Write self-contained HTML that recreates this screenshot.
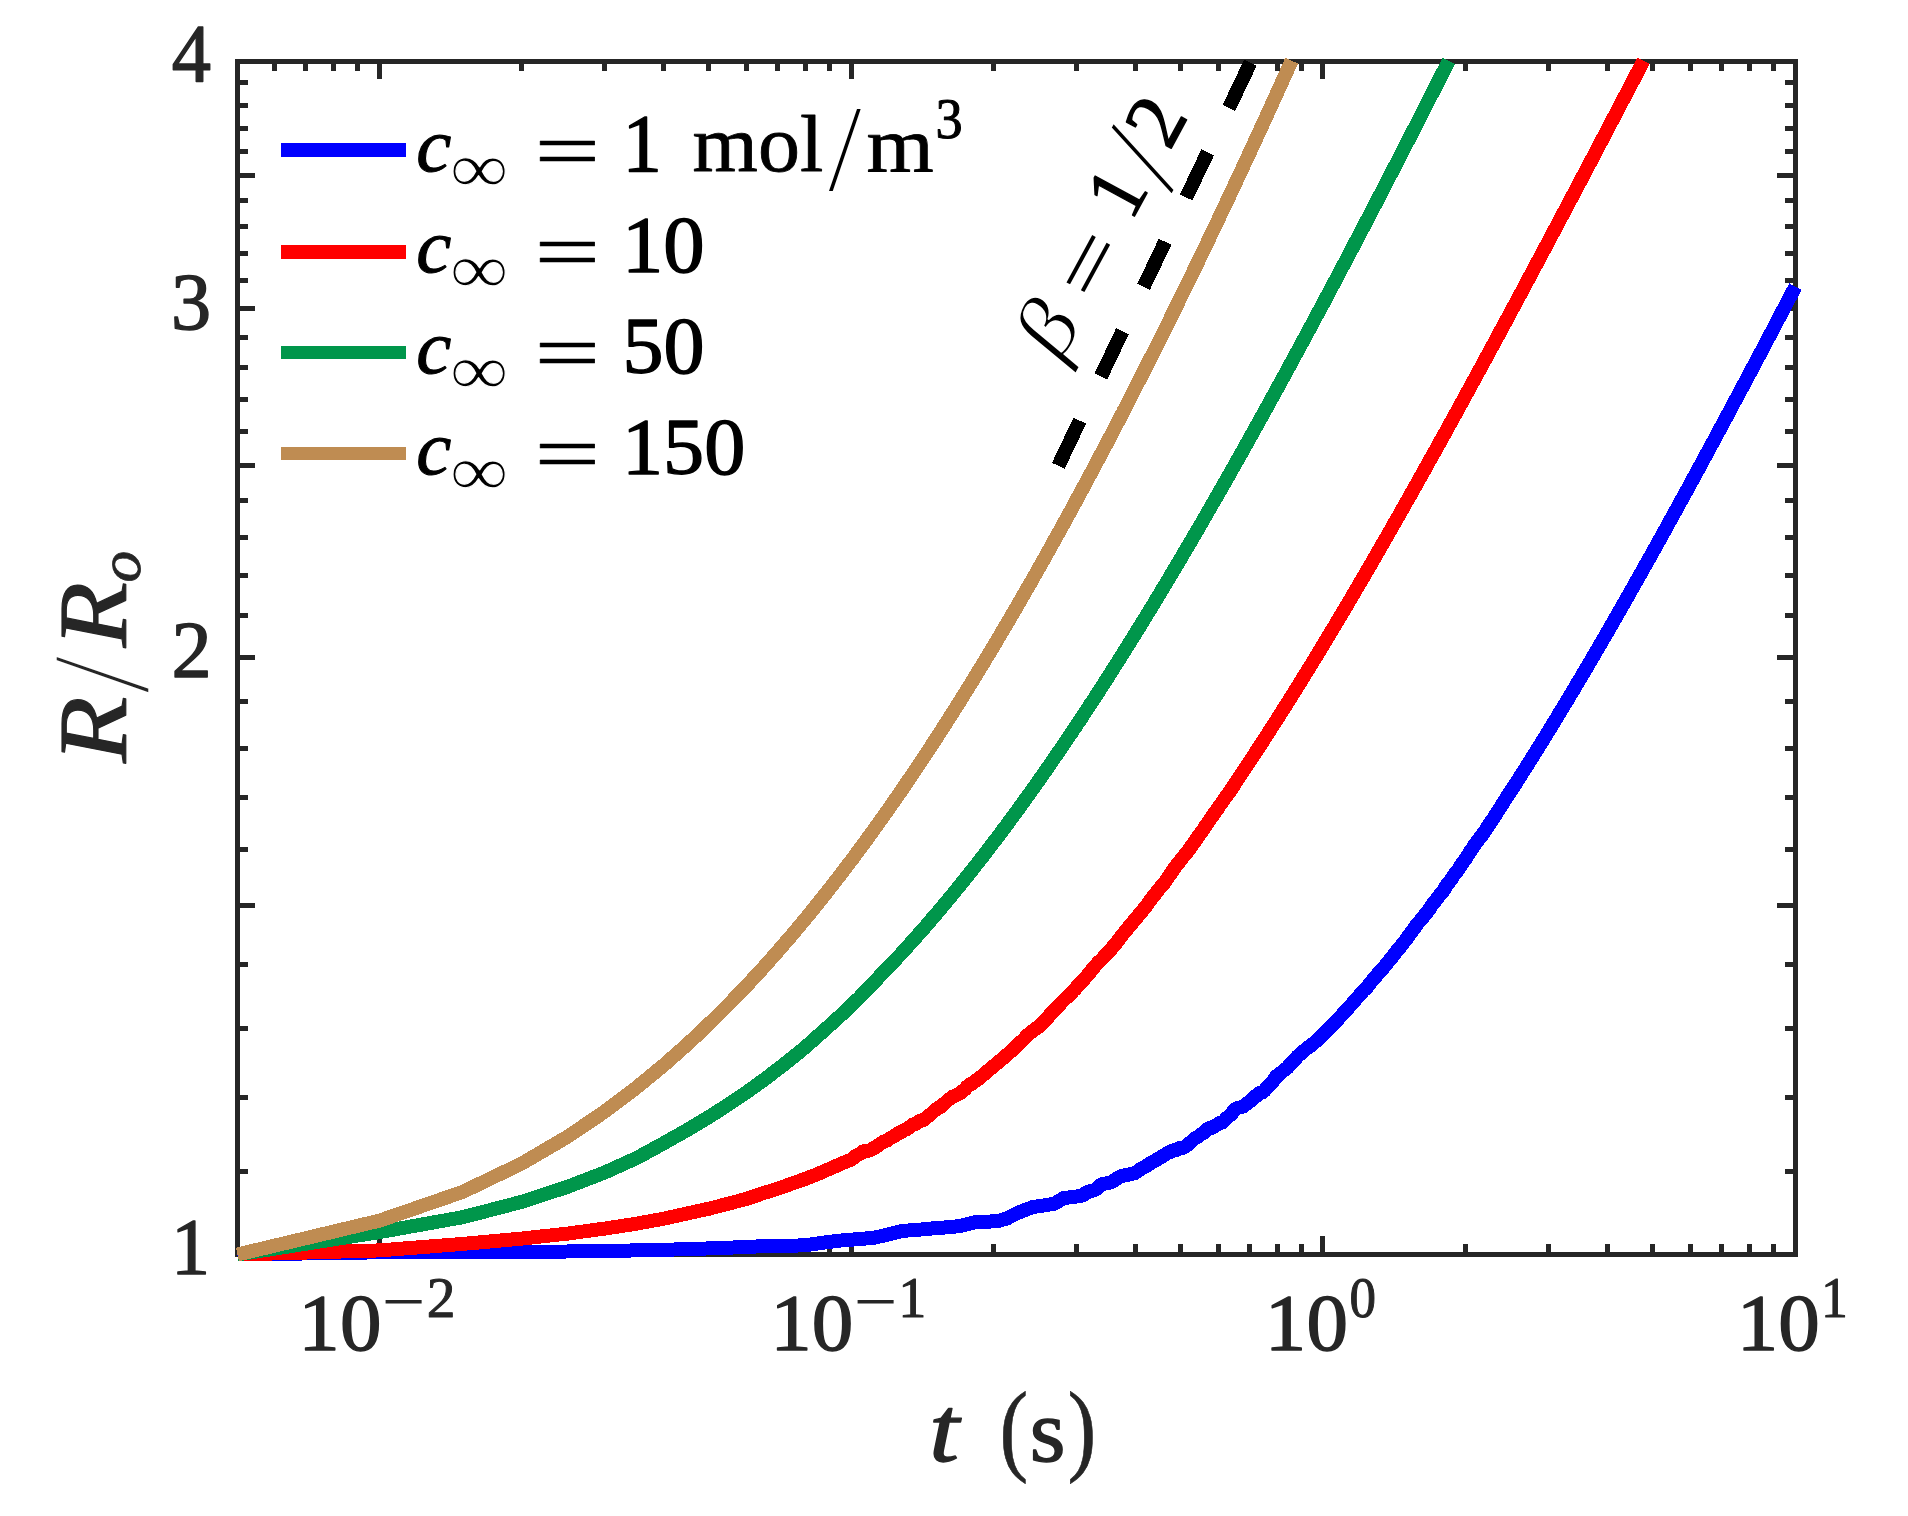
<!DOCTYPE html>
<html lang="en"><head><meta charset="utf-8"><title>R/Ro vs t</title>
<style>html,body{margin:0;padding:0;background:#fff}svg text{white-space:pre}</style></head>
<body>
<svg width="1908" height="1516" viewBox="0 0 1908 1516" style="display:block;font-family:'Liberation Serif','DejaVu Serif',serif">
<rect width="1908" height="1516" fill="#fff"/>
<g fill="#262626" shape-rendering="crispEdges">
<rect x="235.0" y="59.0" width="1563.0" height="5.0"/>
<rect x="235.0" y="1252.0" width="1563.0" height="5.0"/>
<rect x="235.0" y="59.0" width="5.0" height="1198.0"/>
<rect x="1793.0" y="59.0" width="5.0" height="1198.0"/>
<rect x="272.0" y="64.0" width="5.0" height="7.0"/>
<rect x="272.0" y="1244.0" width="5.0" height="8.0"/>
<rect x="303.0" y="64.0" width="5.0" height="7.0"/>
<rect x="303.0" y="1244.0" width="5.0" height="8.0"/>
<rect x="331.0" y="64.0" width="5.0" height="7.0"/>
<rect x="331.0" y="1244.0" width="5.0" height="8.0"/>
<rect x="355.0" y="64.0" width="5.0" height="7.0"/>
<rect x="355.0" y="1244.0" width="5.0" height="8.0"/>
<rect x="377.0" y="64.0" width="5.0" height="15.0"/>
<rect x="377.0" y="1236.0" width="5.0" height="16.0"/>
<rect x="519.0" y="64.0" width="5.0" height="7.0"/>
<rect x="519.0" y="1244.0" width="5.0" height="8.0"/>
<rect x="602.0" y="64.0" width="5.0" height="7.0"/>
<rect x="602.0" y="1244.0" width="5.0" height="8.0"/>
<rect x="661.0" y="64.0" width="5.0" height="7.0"/>
<rect x="661.0" y="1244.0" width="5.0" height="8.0"/>
<rect x="706.0" y="64.0" width="5.0" height="7.0"/>
<rect x="706.0" y="1244.0" width="5.0" height="8.0"/>
<rect x="744.0" y="64.0" width="5.0" height="7.0"/>
<rect x="744.0" y="1244.0" width="5.0" height="8.0"/>
<rect x="775.0" y="64.0" width="5.0" height="7.0"/>
<rect x="775.0" y="1244.0" width="5.0" height="8.0"/>
<rect x="803.0" y="64.0" width="5.0" height="7.0"/>
<rect x="803.0" y="1244.0" width="5.0" height="8.0"/>
<rect x="827.0" y="64.0" width="5.0" height="7.0"/>
<rect x="827.0" y="1244.0" width="5.0" height="8.0"/>
<rect x="849.0" y="64.0" width="5.0" height="15.0"/>
<rect x="849.0" y="1236.0" width="5.0" height="16.0"/>
<rect x="991.0" y="64.0" width="5.0" height="7.0"/>
<rect x="991.0" y="1244.0" width="5.0" height="8.0"/>
<rect x="1074.0" y="64.0" width="5.0" height="7.0"/>
<rect x="1074.0" y="1244.0" width="5.0" height="8.0"/>
<rect x="1133.0" y="64.0" width="5.0" height="7.0"/>
<rect x="1133.0" y="1244.0" width="5.0" height="8.0"/>
<rect x="1178.0" y="64.0" width="5.0" height="7.0"/>
<rect x="1178.0" y="1244.0" width="5.0" height="8.0"/>
<rect x="1216.0" y="64.0" width="5.0" height="7.0"/>
<rect x="1216.0" y="1244.0" width="5.0" height="8.0"/>
<rect x="1247.0" y="64.0" width="5.0" height="7.0"/>
<rect x="1247.0" y="1244.0" width="5.0" height="8.0"/>
<rect x="1275.0" y="64.0" width="5.0" height="7.0"/>
<rect x="1275.0" y="1244.0" width="5.0" height="8.0"/>
<rect x="1299.0" y="64.0" width="5.0" height="7.0"/>
<rect x="1299.0" y="1244.0" width="5.0" height="8.0"/>
<rect x="1320.0" y="64.0" width="5.0" height="15.0"/>
<rect x="1320.0" y="1236.0" width="5.0" height="16.0"/>
<rect x="1463.0" y="64.0" width="5.0" height="7.0"/>
<rect x="1463.0" y="1244.0" width="5.0" height="8.0"/>
<rect x="1546.0" y="64.0" width="5.0" height="7.0"/>
<rect x="1546.0" y="1244.0" width="5.0" height="8.0"/>
<rect x="1605.0" y="64.0" width="5.0" height="7.0"/>
<rect x="1605.0" y="1244.0" width="5.0" height="8.0"/>
<rect x="1650.0" y="64.0" width="5.0" height="7.0"/>
<rect x="1650.0" y="1244.0" width="5.0" height="8.0"/>
<rect x="1688.0" y="64.0" width="5.0" height="7.0"/>
<rect x="1688.0" y="1244.0" width="5.0" height="8.0"/>
<rect x="1719.0" y="64.0" width="5.0" height="7.0"/>
<rect x="1719.0" y="1244.0" width="5.0" height="8.0"/>
<rect x="1747.0" y="64.0" width="5.0" height="7.0"/>
<rect x="1747.0" y="1244.0" width="5.0" height="8.0"/>
<rect x="1771.0" y="64.0" width="5.0" height="7.0"/>
<rect x="1771.0" y="1244.0" width="5.0" height="8.0"/>
<rect x="240.0" y="1169.0" width="8.0" height="5.0"/>
<rect x="1785.0" y="1169.0" width="8.0" height="5.0"/>
<rect x="240.0" y="1095.0" width="8.0" height="5.0"/>
<rect x="1785.0" y="1095.0" width="8.0" height="5.0"/>
<rect x="240.0" y="1026.0" width="8.0" height="5.0"/>
<rect x="1785.0" y="1026.0" width="8.0" height="5.0"/>
<rect x="240.0" y="962.0" width="8.0" height="5.0"/>
<rect x="1785.0" y="962.0" width="8.0" height="5.0"/>
<rect x="240.0" y="903.0" width="15.0" height="5.0"/>
<rect x="1777.0" y="903.0" width="16.0" height="5.0"/>
<rect x="240.0" y="847.0" width="8.0" height="5.0"/>
<rect x="1785.0" y="847.0" width="8.0" height="5.0"/>
<rect x="240.0" y="795.0" width="8.0" height="5.0"/>
<rect x="1785.0" y="795.0" width="8.0" height="5.0"/>
<rect x="240.0" y="746.0" width="8.0" height="5.0"/>
<rect x="1785.0" y="746.0" width="8.0" height="5.0"/>
<rect x="240.0" y="699.0" width="8.0" height="5.0"/>
<rect x="1785.0" y="699.0" width="8.0" height="5.0"/>
<rect x="240.0" y="655.0" width="15.0" height="5.0"/>
<rect x="1777.0" y="655.0" width="16.0" height="5.0"/>
<rect x="240.0" y="613.0" width="8.0" height="5.0"/>
<rect x="1785.0" y="613.0" width="8.0" height="5.0"/>
<rect x="240.0" y="573.0" width="8.0" height="5.0"/>
<rect x="1785.0" y="573.0" width="8.0" height="5.0"/>
<rect x="240.0" y="535.0" width="8.0" height="5.0"/>
<rect x="1785.0" y="535.0" width="8.0" height="5.0"/>
<rect x="240.0" y="498.0" width="8.0" height="5.0"/>
<rect x="1785.0" y="498.0" width="8.0" height="5.0"/>
<rect x="240.0" y="463.0" width="15.0" height="5.0"/>
<rect x="1777.0" y="463.0" width="16.0" height="5.0"/>
<rect x="240.0" y="429.0" width="8.0" height="5.0"/>
<rect x="1785.0" y="429.0" width="8.0" height="5.0"/>
<rect x="240.0" y="397.0" width="8.0" height="5.0"/>
<rect x="1785.0" y="397.0" width="8.0" height="5.0"/>
<rect x="240.0" y="365.0" width="8.0" height="5.0"/>
<rect x="1785.0" y="365.0" width="8.0" height="5.0"/>
<rect x="240.0" y="335.0" width="8.0" height="5.0"/>
<rect x="1785.0" y="335.0" width="8.0" height="5.0"/>
<rect x="240.0" y="306.0" width="15.0" height="5.0"/>
<rect x="1777.0" y="306.0" width="16.0" height="5.0"/>
<rect x="240.0" y="278.0" width="8.0" height="5.0"/>
<rect x="1785.0" y="278.0" width="8.0" height="5.0"/>
<rect x="240.0" y="251.0" width="8.0" height="5.0"/>
<rect x="1785.0" y="251.0" width="8.0" height="5.0"/>
<rect x="240.0" y="224.0" width="8.0" height="5.0"/>
<rect x="1785.0" y="224.0" width="8.0" height="5.0"/>
<rect x="240.0" y="198.0" width="8.0" height="5.0"/>
<rect x="1785.0" y="198.0" width="8.0" height="5.0"/>
<rect x="240.0" y="173.0" width="15.0" height="5.0"/>
<rect x="1777.0" y="173.0" width="16.0" height="5.0"/>
<rect x="240.0" y="149.0" width="8.0" height="5.0"/>
<rect x="1785.0" y="149.0" width="8.0" height="5.0"/>
<rect x="240.0" y="126.0" width="8.0" height="5.0"/>
<rect x="1785.0" y="126.0" width="8.0" height="5.0"/>
<rect x="240.0" y="103.0" width="8.0" height="5.0"/>
<rect x="1785.0" y="103.0" width="8.0" height="5.0"/>
<rect x="240.0" y="80.0" width="8.0" height="5.0"/>
<rect x="1785.0" y="80.0" width="8.0" height="5.0"/>
</g>
<g fill="none" stroke-width="14" stroke-linejoin="round" shape-rendering="crispEdges">
<path stroke="#0000ff" d="M237.5 1254.5L379.6 1252.3L462.7 1252.2L521.6 1251.9L567.4 1251.5L604.7 1251.0L636.3 1250.4L663.7 1249.8L687.8 1249.1L709.4 1248.4L729.0 1247.7L746.8 1246.9L763.2 1246.2L778.4 1246.0L792.5 1245.8L805.8 1245.1L818.2 1243.4L829.9 1241.8L841.0 1240.5L851.5 1239.7L853.9 1239.5L856.2 1239.3L858.6 1239.1L861.0 1238.9L863.3 1238.7L865.7 1238.5L868.0 1238.3L870.4 1238.1L872.8 1237.8L875.1 1237.5L877.5 1237.0L879.8 1236.4L882.2 1235.9L884.5 1235.3L886.9 1234.7L889.3 1234.2L891.6 1233.6L894.0 1233.0L896.3 1232.5L898.7 1231.9L901.1 1231.3L903.4 1230.8L905.8 1230.7L908.1 1230.5L910.5 1230.3L912.9 1230.1L915.2 1230.0L917.6 1229.8L919.9 1229.6L922.3 1229.4L924.7 1229.2L927.0 1229.0L929.4 1228.7L931.7 1228.5L934.1 1228.4L936.5 1228.2L938.8 1228.0L941.2 1227.8L943.5 1227.6L945.9 1227.4L948.3 1227.2L950.6 1226.9L953.0 1226.7L955.3 1226.5L957.7 1226.2L960.1 1226.0L962.4 1225.4L964.8 1224.8L967.1 1224.2L969.5 1223.6L971.9 1223.0L974.2 1222.3L976.6 1222.1L978.9 1222.0L981.3 1221.9L983.7 1221.8L986.0 1221.7L988.4 1221.6L990.7 1221.5L993.1 1221.4L995.5 1221.2L997.8 1221.1L1000.2 1220.4L1002.5 1219.7L1004.9 1219.0L1007.3 1218.3L1009.6 1217.1L1012.0 1215.9L1014.3 1214.7L1016.7 1213.5L1019.1 1212.4L1021.4 1211.5L1023.8 1210.5L1026.1 1209.6L1028.5 1208.7L1030.9 1207.7L1033.2 1206.9L1035.6 1206.6L1037.9 1206.3L1040.3 1205.9L1042.6 1205.6L1045.0 1205.2L1047.4 1204.8L1049.7 1204.5L1052.1 1204.1L1054.4 1203.6L1056.8 1202.2L1059.2 1200.8L1061.5 1199.4L1063.9 1198.0L1066.2 1197.7L1068.6 1197.5L1071.0 1197.2L1073.3 1196.9L1075.7 1196.6L1078.0 1196.3L1080.4 1196.0L1082.8 1195.5L1085.1 1193.2L1087.5 1192.2L1089.8 1191.4L1092.2 1190.6L1094.6 1189.9L1096.9 1189.0L1099.3 1186.6L1101.6 1184.3L1104.0 1183.8L1106.4 1183.4L1108.7 1182.9L1111.1 1182.4L1113.4 1180.9L1115.8 1179.3L1118.2 1177.8L1120.5 1176.3L1122.9 1175.8L1125.2 1175.3L1127.6 1174.8L1130.0 1174.3L1132.3 1173.7L1134.7 1173.2L1137.0 1171.8L1139.4 1169.9L1141.8 1168.4L1144.1 1167.2L1146.5 1165.9L1148.8 1164.3L1151.2 1162.7L1153.6 1161.4L1155.9 1160.2L1158.3 1158.6L1160.6 1157.6L1163.0 1155.7L1165.4 1154.5L1167.7 1152.9L1170.1 1152.1L1172.4 1150.4L1174.8 1150.5L1177.2 1149.6L1179.5 1148.2L1181.9 1148.2L1184.2 1147.3L1186.6 1145.6L1189.0 1143.7L1191.3 1141.8L1193.7 1139.3L1196.0 1137.7L1198.4 1136.6L1200.8 1134.2L1203.1 1133.1L1205.5 1131.2L1207.8 1129.0L1210.2 1127.7L1212.5 1127.7L1214.9 1125.9L1217.3 1124.6L1219.6 1123.1L1222.0 1122.6L1224.3 1120.7L1226.7 1118.1L1229.1 1115.9L1231.4 1114.7L1233.8 1110.5L1236.1 1108.7L1238.5 1107.7L1240.9 1107.4L1243.2 1106.5L1245.6 1104.5L1247.9 1103.0L1250.3 1100.9L1252.7 1098.9L1255.0 1096.3L1257.4 1095.8L1259.7 1092.9L1262.1 1092.5L1264.5 1090.7L1266.8 1087.8L1269.2 1085.3L1271.5 1083.2L1273.9 1080.1L1276.3 1076.2L1278.6 1075.6L1281.0 1072.8L1283.3 1070.8L1285.7 1068.9L1288.1 1067.1L1290.4 1063.7L1292.8 1061.7L1295.1 1059.5L1297.5 1056.4L1299.9 1054.4L1302.2 1052.3L1304.6 1050.3L1306.9 1048.3L1309.3 1046.7L1311.7 1045.0L1314.0 1042.9L1316.4 1040.8L1318.7 1038.5L1321.1 1036.4L1323.5 1034.0L1325.8 1031.9L1328.2 1029.6L1330.5 1027.2L1332.9 1024.7L1335.3 1022.2L1337.6 1019.7L1340.0 1017.0L1342.3 1014.6L1344.7 1012.0L1347.1 1009.1L1349.4 1006.7L1351.8 1004.3L1354.1 1001.3L1356.5 998.5L1358.9 996.2L1361.2 993.3L1363.6 990.4L1365.9 988.6L1368.3 985.6L1370.7 982.5L1373.0 979.8L1375.4 977.4L1377.7 974.2L1380.1 971.5L1382.4 969.1L1384.8 966.1L1387.2 963.1L1389.5 960.4L1391.9 957.4L1394.2 954.3L1396.6 951.3L1399.0 948.7L1401.3 945.5L1403.7 942.4L1406.0 939.8L1408.4 936.2L1410.8 932.8L1413.1 929.8L1415.5 926.6L1417.8 923.3L1420.2 920.7L1422.6 918.2L1424.9 914.8L1427.3 911.9L1429.6 908.8L1432.0 904.9L1434.4 902.4L1436.7 899.2L1439.1 896.0L1441.4 892.9L1443.8 890.4L1446.2 885.6L1448.5 882.8L1450.9 879.9L1453.2 876.2L1455.6 872.8L1458.0 870.2L1460.3 866.3L1462.7 862.8L1465.0 859.7L1467.4 856.1L1469.8 852.1L1472.1 848.9L1474.5 845.1L1476.8 841.9L1479.2 838.6L1481.6 835.8L1483.9 832.4L1486.3 829.2L1488.6 825.2L1491.0 821.8L1493.4 818.5L1495.7 814.7L1498.1 810.9L1500.4 807.4L1502.8 803.6L1505.2 799.6L1507.5 796.1L1509.9 792.5L1512.2 789.0L1514.6 785.3L1517.0 781.7L1519.3 778.0L1521.7 774.2L1524.0 770.5L1526.4 766.8L1528.8 763.0L1531.1 759.3L1533.5 755.5L1535.8 751.7L1538.2 747.9L1540.6 744.1L1542.9 740.3L1545.3 736.5L1547.6 732.7L1550.0 728.8L1552.3 724.9L1554.7 721.1L1557.1 717.2L1559.4 713.3L1561.8 709.4L1564.1 705.5L1566.5 701.6L1568.9 697.6L1571.2 693.7L1573.6 689.8L1575.9 685.8L1578.3 681.8L1580.7 677.8L1583.0 673.9L1585.4 669.9L1587.7 665.8L1590.1 661.8L1592.5 657.8L1594.8 653.8L1597.2 649.7L1599.5 645.7L1601.9 641.6L1604.3 637.5L1606.6 633.5L1609.0 629.4L1611.3 625.3L1613.7 621.2L1616.1 617.1L1618.4 612.9L1620.8 608.8L1623.1 604.7L1625.5 600.5L1627.9 596.4L1630.2 592.2L1632.6 588.0L1634.9 583.9L1637.3 579.7L1639.7 575.5L1642.0 571.3L1644.4 567.1L1646.7 562.9L1649.1 558.7L1651.5 554.4L1653.8 550.2L1656.2 546.0L1658.5 541.7L1660.9 537.5L1663.3 533.2L1665.6 529.0L1668.0 524.7L1670.3 520.4L1672.7 516.1L1675.1 511.8L1677.4 507.5L1679.8 503.2L1682.1 498.9L1684.5 494.6L1686.9 490.3L1689.2 486.0L1691.6 481.7L1693.9 477.3L1696.3 473.0L1698.7 468.6L1701.0 464.3L1703.4 459.9L1705.7 455.6L1708.1 451.2L1710.5 446.8L1712.8 442.4L1715.2 438.1L1717.5 433.7L1719.9 429.3L1722.2 424.9L1724.6 420.5L1727.0 416.1L1729.3 411.7L1731.7 407.3L1734.0 402.8L1736.4 398.4L1738.8 394.0L1741.1 389.6L1743.5 385.1L1745.8 380.7L1748.2 376.2L1750.6 371.8L1752.9 367.3L1755.3 362.9L1757.6 358.4L1760.0 354.0L1762.4 349.5L1764.7 345.0L1767.1 340.6L1769.4 336.1L1771.8 331.6L1774.2 327.1L1776.5 322.6L1778.9 318.1L1781.2 313.6L1783.6 309.1L1786.0 304.6L1788.3 300.1L1790.7 295.6L1793.0 291.1L1795.4 286.6"/>
<path stroke="#ff0000" d="M237.5 1254.5L379.6 1250.4L462.7 1243.9L521.6 1238.6L567.4 1233.6L604.7 1228.6L636.3 1223.7L663.7 1218.7L687.8 1213.3L709.4 1208.6L729.0 1203.5L746.8 1198.8L763.2 1193.2L778.4 1188.5L792.5 1183.4L805.8 1178.7L818.2 1173.8L829.9 1168.7L841.0 1163.8L851.5 1159.5L853.9 1157.6L856.2 1155.7L858.6 1154.3L861.0 1153.2L863.3 1151.3L865.7 1151.1L868.0 1150.8L870.4 1150.2L872.8 1148.7L875.1 1147.4L877.5 1146.0L879.8 1144.1L882.2 1142.6L884.5 1141.2L886.9 1140.6L889.3 1138.7L891.6 1137.4L894.0 1136.0L896.3 1134.9L898.7 1132.8L901.1 1132.1L903.4 1130.4L905.8 1129.6L908.1 1128.2L910.5 1126.3L912.9 1124.5L915.2 1124.1L917.6 1122.2L919.9 1120.7L922.3 1120.6L924.7 1119.1L927.0 1117.0L929.4 1115.1L931.7 1113.4L934.1 1110.9L936.5 1109.2L938.8 1107.6L941.2 1106.5L943.5 1104.2L945.9 1102.1L948.3 1099.6L950.6 1098.4L953.0 1096.4L955.3 1095.7L957.7 1094.5L960.1 1093.4L962.4 1091.3L964.8 1089.5L967.1 1086.7L969.5 1084.6L971.9 1083.7L974.2 1081.8L976.6 1080.1L978.9 1078.5L981.3 1076.6L983.7 1074.5L986.0 1072.5L988.4 1070.4L990.7 1068.5L993.1 1066.5L995.5 1064.5L997.8 1062.6L1000.2 1060.6L1002.5 1058.6L1004.9 1056.6L1007.3 1054.6L1009.6 1052.4L1012.0 1050.3L1014.3 1048.1L1016.7 1046.0L1019.1 1043.7L1021.4 1041.5L1023.8 1039.2L1026.1 1036.7L1028.5 1034.4L1030.9 1032.4L1033.2 1030.6L1035.6 1028.7L1037.9 1027.3L1040.3 1025.2L1042.6 1022.7L1045.0 1020.6L1047.4 1017.9L1049.7 1015.2L1052.1 1012.6L1054.4 1010.4L1056.8 1007.1L1059.2 1005.2L1061.5 1002.5L1063.9 1000.1L1066.2 997.9L1068.6 996.1L1071.0 993.4L1073.3 990.8L1075.7 988.5L1078.0 985.5L1080.4 983.0L1082.8 980.6L1085.1 978.0L1087.5 975.3L1089.8 972.6L1092.2 969.5L1094.6 966.6L1096.9 964.0L1099.3 961.6L1101.6 959.4L1104.0 956.8L1106.4 954.4L1108.7 951.5L1111.1 949.1L1113.4 946.0L1115.8 943.5L1118.2 940.4L1120.5 937.5L1122.9 934.3L1125.2 931.3L1127.6 928.5L1130.0 925.4L1132.3 922.9L1134.7 919.7L1137.0 917.3L1139.4 914.2L1141.8 911.9L1144.1 908.5L1146.5 905.8L1148.8 902.2L1151.2 899.1L1153.6 895.9L1155.9 893.1L1158.3 890.0L1160.6 887.3L1163.0 884.5L1165.4 881.4L1167.7 878.0L1170.1 874.6L1172.4 871.3L1174.8 867.5L1177.2 864.5L1179.5 861.6L1181.9 858.5L1184.2 855.6L1186.6 853.0L1189.0 849.7L1191.3 846.2L1193.7 843.1L1196.0 839.7L1198.4 836.0L1200.8 832.9L1203.1 829.9L1205.5 826.1L1207.8 822.7L1210.2 819.3L1212.5 815.9L1214.9 812.6L1217.3 809.4L1219.6 805.7L1222.0 802.6L1224.3 798.9L1226.7 795.6L1229.1 792.5L1231.4 789.1L1233.8 785.6L1236.1 781.9L1238.5 778.3L1240.9 774.8L1243.2 771.2L1245.6 767.7L1247.9 764.2L1250.3 760.6L1252.7 757.0L1255.0 753.4L1257.4 749.8L1259.7 746.2L1262.1 742.6L1264.5 738.9L1266.8 735.3L1269.2 731.6L1271.5 727.9L1273.9 724.2L1276.3 720.5L1278.6 716.8L1281.0 713.1L1283.3 709.4L1285.7 705.7L1288.1 701.9L1290.4 698.1L1292.8 694.4L1295.1 690.6L1297.5 686.8L1299.9 683.0L1302.2 679.2L1304.6 675.4L1306.9 671.5L1309.3 667.7L1311.7 663.8L1314.0 660.0L1316.4 656.1L1318.7 652.2L1321.1 648.4L1323.5 644.5L1325.8 640.5L1328.2 636.6L1330.5 632.7L1332.9 628.8L1335.3 624.8L1337.6 620.9L1340.0 616.9L1342.3 612.9L1344.7 609.0L1347.1 605.0L1349.4 601.0L1351.8 597.0L1354.1 593.0L1356.5 588.9L1358.9 584.9L1361.2 580.9L1363.6 576.8L1365.9 572.8L1368.3 568.7L1370.7 564.7L1373.0 560.6L1375.4 556.5L1377.7 552.4L1380.1 548.3L1382.4 544.2L1384.8 540.1L1387.2 536.0L1389.5 531.9L1391.9 527.7L1394.2 523.6L1396.6 519.4L1399.0 515.3L1401.3 511.1L1403.7 507.0L1406.0 502.8L1408.4 498.6L1410.8 494.4L1413.1 490.2L1415.5 486.0L1417.8 481.8L1420.2 477.6L1422.6 473.4L1424.9 469.2L1427.3 464.9L1429.6 460.7L1432.0 456.5L1434.4 452.2L1436.7 448.0L1439.1 443.7L1441.4 439.5L1443.8 435.2L1446.2 430.9L1448.5 426.6L1450.9 422.4L1453.2 418.1L1455.6 413.8L1458.0 409.5L1460.3 405.2L1462.7 400.9L1465.0 396.6L1467.4 392.2L1469.8 387.9L1472.1 383.6L1474.5 379.3L1476.8 374.9L1479.2 370.6L1481.6 366.2L1483.9 361.9L1486.3 357.5L1488.6 353.2L1491.0 348.8L1493.4 344.4L1495.7 340.1L1498.1 335.7L1500.4 331.3L1502.8 326.9L1505.2 322.6L1507.5 318.2L1509.9 313.8L1512.2 309.4L1514.6 305.0L1517.0 300.6L1519.3 296.2L1521.7 291.8L1524.0 287.4L1526.4 282.9L1528.8 278.5L1531.1 274.1L1533.5 269.7L1535.8 265.2L1538.2 260.8L1540.6 256.4L1542.9 251.9L1545.3 247.5L1547.6 243.1L1550.0 238.6L1552.3 234.2L1554.7 229.7L1557.1 225.3L1559.4 220.8L1561.8 216.3L1564.1 211.9L1566.5 207.4L1568.9 203.0L1571.2 198.5L1573.6 194.0L1575.9 189.5L1578.3 185.1L1580.7 180.6L1583.0 176.1L1585.4 171.6L1587.7 167.1L1590.1 162.7L1592.5 158.2L1594.8 153.7L1597.2 149.2L1599.5 144.7L1601.9 140.2L1604.3 135.7L1606.6 131.2L1609.0 126.7L1611.3 122.2L1613.7 117.7L1616.1 113.2L1618.4 108.7L1620.8 104.2L1623.1 99.7L1625.5 95.2L1627.9 90.7L1630.2 86.2L1632.6 81.7L1634.9 77.2L1637.3 72.6L1639.7 68.1L1642.0 63.6L1643.5 60.7"/>
<path stroke="#00964b" d="M237.5 1254.5L379.6 1232.1L462.7 1217.2L521.6 1201.9L567.4 1186.9L604.7 1172.5L636.3 1158.2L663.7 1143.3L687.8 1129.6L709.4 1116.7L729.0 1104.1L746.8 1092.1L763.2 1080.3L778.4 1068.8L792.5 1057.7L805.8 1046.8L818.2 1035.7L829.9 1025.2L841.0 1015.1L851.5 1005.2L853.9 1002.7L856.2 1000.5L858.6 998.5L861.0 995.8L863.3 992.9L865.7 990.9L868.0 988.7L870.4 986.1L872.8 984.0L875.1 981.1L877.5 978.7L879.8 976.0L882.2 973.4L884.5 970.9L886.9 968.9L889.3 966.3L891.6 963.8L894.0 961.4L896.3 958.9L898.7 956.3L901.1 953.8L903.4 951.2L905.8 948.6L908.1 946.0L910.5 943.4L912.9 940.8L915.2 938.1L917.6 935.5L919.9 932.8L922.3 930.1L924.7 927.4L927.0 924.7L929.4 921.9L931.7 919.2L934.1 916.4L936.5 913.7L938.8 910.9L941.2 908.1L943.5 905.3L945.9 902.4L948.3 899.6L950.6 896.7L953.0 893.9L955.3 891.0L957.7 888.1L960.1 885.2L962.4 882.3L964.8 879.3L967.1 876.4L969.5 873.4L971.9 870.4L974.2 867.5L976.6 864.4L978.9 861.4L981.3 858.4L983.7 855.4L986.0 852.3L988.4 849.2L990.7 846.1L993.1 843.0L995.5 839.9L997.8 836.8L1000.2 833.7L1002.5 830.5L1004.9 827.4L1007.3 824.2L1009.6 821.0L1012.0 817.8L1014.3 814.6L1016.7 811.4L1019.1 808.1L1021.4 804.9L1023.8 801.6L1026.1 798.3L1028.5 795.0L1030.9 791.7L1033.2 788.4L1035.6 785.1L1037.9 781.7L1040.3 778.4L1042.6 775.0L1045.0 771.6L1047.4 768.3L1049.7 764.9L1052.1 761.4L1054.4 758.0L1056.8 754.6L1059.2 751.1L1061.5 747.7L1063.9 744.2L1066.2 740.7L1068.6 737.2L1071.0 733.7L1073.3 730.2L1075.7 726.7L1078.0 723.1L1080.4 719.6L1082.8 716.0L1085.1 712.4L1087.5 708.8L1089.8 705.2L1092.2 701.6L1094.6 698.0L1096.9 694.4L1099.3 690.7L1101.6 687.1L1104.0 683.4L1106.4 679.7L1108.7 676.0L1111.1 672.3L1113.4 668.6L1115.8 664.9L1118.2 661.2L1120.5 657.4L1122.9 653.7L1125.2 649.9L1127.6 646.1L1130.0 642.3L1132.3 638.6L1134.7 634.8L1137.0 630.9L1139.4 627.1L1141.8 623.3L1144.1 619.4L1146.5 615.6L1148.8 611.7L1151.2 607.8L1153.6 604.0L1155.9 600.1L1158.3 596.2L1160.6 592.3L1163.0 588.3L1165.4 584.4L1167.7 580.5L1170.1 576.5L1172.4 572.6L1174.8 568.6L1177.2 564.6L1179.5 560.6L1181.9 556.6L1184.2 552.6L1186.6 548.6L1189.0 544.6L1191.3 540.6L1193.7 536.5L1196.0 532.5L1198.4 528.4L1200.8 524.4L1203.1 520.3L1205.5 516.2L1207.8 512.1L1210.2 508.0L1212.5 503.9L1214.9 499.8L1217.3 495.7L1219.6 491.6L1222.0 487.4L1224.3 483.3L1226.7 479.1L1229.1 475.0L1231.4 470.8L1233.8 466.6L1236.1 462.5L1238.5 458.3L1240.9 454.1L1243.2 449.9L1245.6 445.7L1247.9 441.4L1250.3 437.2L1252.7 433.0L1255.0 428.7L1257.4 424.5L1259.7 420.2L1262.1 416.0L1264.5 411.7L1266.8 407.4L1269.2 403.1L1271.5 398.8L1273.9 394.5L1276.3 390.2L1278.6 385.9L1281.0 381.6L1283.3 377.3L1285.7 373.0L1288.1 368.6L1290.4 364.3L1292.8 359.9L1295.1 355.6L1297.5 351.2L1299.9 346.9L1302.2 342.5L1304.6 338.1L1306.9 333.7L1309.3 329.3L1311.7 324.9L1314.0 320.5L1316.4 316.1L1318.7 311.7L1321.1 307.3L1323.5 302.9L1325.8 298.4L1328.2 294.0L1330.5 289.5L1332.9 285.1L1335.3 280.6L1337.6 276.2L1340.0 271.7L1342.3 267.2L1344.7 262.8L1347.1 258.3L1349.4 253.8L1351.8 249.3L1354.1 244.8L1356.5 240.3L1358.9 235.8L1361.2 231.3L1363.6 226.8L1365.9 222.3L1368.3 217.7L1370.7 213.2L1373.0 208.7L1375.4 204.1L1377.7 199.6L1380.1 195.0L1382.4 190.5L1384.8 185.9L1387.2 181.4L1389.5 176.8L1391.9 172.2L1394.2 167.7L1396.6 163.1L1399.0 158.5L1401.3 153.9L1403.7 149.3L1406.0 144.7L1408.4 140.1L1410.8 135.5L1413.1 130.9L1415.5 126.3L1417.8 121.7L1420.2 117.0L1422.6 112.4L1424.9 107.8L1427.3 103.2L1429.6 98.5L1432.0 93.9L1434.4 89.2L1436.7 84.6L1439.1 79.9L1441.4 75.3L1443.8 70.6L1446.2 66.0L1448.5 61.3L1448.8 60.7"/>
<path stroke="#bf8c52" d="M237.5 1254.5L379.6 1220.6L462.7 1191.9L521.6 1163.6L567.4 1136.8L604.7 1111.6L636.3 1087.7L663.7 1065.2L687.8 1043.9L709.4 1023.5L729.0 1004.1L746.8 985.6L763.2 967.8L778.4 950.7L792.5 934.3L805.8 918.4L818.2 903.1L829.9 888.3L841.0 874.0L851.5 860.2L853.9 857.0L856.2 853.8L858.6 850.7L861.0 847.5L863.3 844.3L865.7 841.0L868.0 837.8L870.4 834.6L872.8 831.3L875.1 828.0L877.5 824.7L879.8 821.4L882.2 818.1L884.5 814.8L886.9 811.4L889.3 808.1L891.6 804.7L894.0 801.3L896.3 797.9L898.7 794.5L901.1 791.1L903.4 787.6L905.8 784.2L908.1 780.7L910.5 777.2L912.9 773.7L915.2 770.2L917.6 766.7L919.9 763.1L922.3 759.6L924.7 756.0L927.0 752.4L929.4 748.9L931.7 745.3L934.1 741.6L936.5 738.0L938.8 734.4L941.2 730.7L943.5 727.0L945.9 723.3L948.3 719.6L950.6 715.9L953.0 712.2L955.3 708.5L957.7 704.7L960.1 701.0L962.4 697.2L964.8 693.4L967.1 689.6L969.5 685.8L971.9 682.0L974.2 678.1L976.6 674.3L978.9 670.4L981.3 666.5L983.7 662.6L986.0 658.7L988.4 654.8L990.7 650.9L993.1 647.0L995.5 643.0L997.8 639.0L1000.2 635.1L1002.5 631.1L1004.9 627.1L1007.3 623.1L1009.6 619.0L1012.0 615.0L1014.3 611.0L1016.7 606.9L1019.1 602.8L1021.4 598.7L1023.8 594.6L1026.1 590.5L1028.5 586.4L1030.9 582.3L1033.2 578.1L1035.6 574.0L1037.9 569.8L1040.3 565.6L1042.6 561.5L1045.0 557.3L1047.4 553.0L1049.7 548.8L1052.1 544.6L1054.4 540.3L1056.8 536.1L1059.2 531.8L1061.5 527.5L1063.9 523.2L1066.2 518.9L1068.6 514.6L1071.0 510.3L1073.3 505.9L1075.7 501.6L1078.0 497.2L1080.4 492.9L1082.8 488.5L1085.1 484.1L1087.5 479.7L1089.8 475.3L1092.2 470.9L1094.6 466.4L1096.9 462.0L1099.3 457.5L1101.6 453.0L1104.0 448.6L1106.4 444.1L1108.7 439.6L1111.1 435.1L1113.4 430.6L1115.8 426.0L1118.2 421.5L1120.5 416.9L1122.9 412.4L1125.2 407.8L1127.6 403.2L1130.0 398.6L1132.3 394.0L1134.7 389.4L1137.0 384.8L1139.4 380.1L1141.8 375.5L1144.1 370.8L1146.5 366.2L1148.8 361.5L1151.2 356.8L1153.6 352.1L1155.9 347.4L1158.3 342.7L1160.6 338.0L1163.0 333.3L1165.4 328.5L1167.7 323.8L1170.1 319.0L1172.4 314.2L1174.8 309.4L1177.2 304.6L1179.5 299.8L1181.9 295.0L1184.2 290.2L1186.6 285.4L1189.0 280.5L1191.3 275.7L1193.7 270.8L1196.0 266.0L1198.4 261.1L1200.8 256.2L1203.1 251.3L1205.5 246.4L1207.8 241.5L1210.2 236.5L1212.5 231.6L1214.9 226.6L1217.3 221.7L1219.6 216.7L1222.0 211.8L1224.3 206.8L1226.7 201.8L1229.1 196.8L1231.4 191.8L1233.8 186.7L1236.1 181.7L1238.5 176.7L1240.9 171.6L1243.2 166.6L1245.6 161.5L1247.9 156.4L1250.3 151.3L1252.7 146.2L1255.0 141.1L1257.4 136.0L1259.7 130.9L1262.1 125.7L1264.5 120.6L1266.8 115.4L1269.2 110.3L1271.5 105.1L1273.9 99.9L1276.3 94.7L1278.6 89.5L1281.0 84.3L1283.3 79.1L1285.7 73.9L1288.1 68.6L1290.4 63.4L1291.6 60.7"/>
<path stroke="#000" stroke-dasharray="50 49.1" d="M1058.3 465.8L1250.4 62.8"/>
</g>
<g shape-rendering="crispEdges">
<rect x="281" y="143.3" width="125" height="13.4" fill="#0000ff"/>
<rect x="281" y="245.3" width="125" height="13.4" fill="#ff0000"/>
<rect x="281" y="345.8" width="125" height="13.4" fill="#00964b"/>
<rect x="281" y="446.8" width="125" height="13.4" fill="#bf8c52"/>
</g>
<text transform="matrix(0.7896 0 0 0.7676 416.28 170.78)" font-size="100" fill="#000" stroke="#000" stroke-width="1.1" vector-effect="non-scaling-stroke" stroke-linejoin="round" style="font-style:italic;">c</text>
<text transform="matrix(0.8197 0 0 0.7147 449.78 191.60)" font-size="100" fill="#000" stroke="#fff" stroke-width="1.2" vector-effect="non-scaling-stroke" stroke-linejoin="round" style="">∞</text>
<text transform="matrix(1.1631 0 0 0.7880 534.58 176.79)" font-size="100" fill="#000" stroke="#000" stroke-width="0.8" vector-effect="non-scaling-stroke" stroke-linejoin="round" style="">=</text>
<text transform="matrix(0.7869 0 0 0.8167 622.58 170.50)" font-size="100" fill="#000" stroke="#000" stroke-width="1.4" vector-effect="non-scaling-stroke" stroke-linejoin="round" style="">1</text>
<text transform="matrix(0.7896 0 0 0.7676 416.28 271.88)" font-size="100" fill="#000" stroke="#000" stroke-width="1.1" vector-effect="non-scaling-stroke" stroke-linejoin="round" style="font-style:italic;">c</text>
<text transform="matrix(0.8197 0 0 0.7147 449.78 292.70)" font-size="100" fill="#000" stroke="#fff" stroke-width="1.2" vector-effect="non-scaling-stroke" stroke-linejoin="round" style="">∞</text>
<text transform="matrix(1.1631 0 0 0.7880 534.58 277.89)" font-size="100" fill="#000" stroke="#000" stroke-width="0.8" vector-effect="non-scaling-stroke" stroke-linejoin="round" style="">=</text>
<text transform="matrix(0.8272 0 0 0.8096 621.92 271.62)" font-size="100" fill="#000" stroke="#000" stroke-width="1.4" vector-effect="non-scaling-stroke" stroke-linejoin="round" style="">10</text>
<text transform="matrix(0.7896 0 0 0.7676 416.28 372.98)" font-size="100" fill="#000" stroke="#000" stroke-width="1.1" vector-effect="non-scaling-stroke" stroke-linejoin="round" style="font-style:italic;">c</text>
<text transform="matrix(0.8197 0 0 0.7147 449.78 393.80)" font-size="100" fill="#000" stroke="#fff" stroke-width="1.2" vector-effect="non-scaling-stroke" stroke-linejoin="round" style="">∞</text>
<text transform="matrix(1.1631 0 0 0.7880 534.58 378.99)" font-size="100" fill="#000" stroke="#000" stroke-width="0.8" vector-effect="non-scaling-stroke" stroke-linejoin="round" style="">=</text>
<text transform="matrix(0.8208 0 0 0.8096 622.54 372.72)" font-size="100" fill="#000" stroke="#000" stroke-width="1.4" vector-effect="non-scaling-stroke" stroke-linejoin="round" style="">50</text>
<text transform="matrix(0.7896 0 0 0.7676 416.28 474.08)" font-size="100" fill="#000" stroke="#000" stroke-width="1.1" vector-effect="non-scaling-stroke" stroke-linejoin="round" style="font-style:italic;">c</text>
<text transform="matrix(0.8197 0 0 0.7147 449.78 494.90)" font-size="100" fill="#000" stroke="#fff" stroke-width="1.2" vector-effect="non-scaling-stroke" stroke-linejoin="round" style="">∞</text>
<text transform="matrix(1.1631 0 0 0.7880 534.58 480.09)" font-size="100" fill="#000" stroke="#000" stroke-width="0.8" vector-effect="non-scaling-stroke" stroke-linejoin="round" style="">=</text>
<text transform="matrix(0.8224 0 0 0.8096 621.96 473.82)" font-size="100" fill="#000" stroke="#000" stroke-width="1.4" vector-effect="non-scaling-stroke" stroke-linejoin="round" style="">150</text>
<text transform="matrix(0.8410 0 0 0.8125 692.62 170.79)" font-size="100" fill="#000" stroke="#000" stroke-width="0.8" vector-effect="non-scaling-stroke" stroke-linejoin="round" style="">mol</text>
<text transform="matrix(1.2482 0 0 1.2522 827.40 190.95)" font-size="100" fill="#000" stroke="#fff" stroke-width="2.2" vector-effect="non-scaling-stroke" stroke-linejoin="round" style="">/</text>
<text transform="matrix(0.8652 0 0 0.7818 866.57 170.80)" font-size="100" fill="#000" stroke="#000" stroke-width="0.8" vector-effect="non-scaling-stroke" stroke-linejoin="round" style="">m</text>
<text transform="matrix(0.5435 0 0 0.5699 935.39 138.13)" font-size="100" fill="#000" stroke="#000" stroke-width="1.0" vector-effect="non-scaling-stroke" stroke-linejoin="round" style="">3</text>
<text transform="matrix(0.7845 0 0 0.8146 171.73 81.10)" font-size="100" fill="#262626" stroke="#262626" stroke-width="1.4" vector-effect="non-scaling-stroke" stroke-linejoin="round" style="">4</text>
<text transform="matrix(0.8019 0 0 0.8100 170.95 328.63)" font-size="100" fill="#262626" stroke="#262626" stroke-width="1.4" vector-effect="non-scaling-stroke" stroke-linejoin="round" style="">3</text>
<text transform="matrix(0.8035 0 0 0.8097 171.56 677.45)" font-size="100" fill="#262626" stroke="#262626" stroke-width="1.4" vector-effect="non-scaling-stroke" stroke-linejoin="round" style="">2</text>
<text transform="matrix(0.7813 0 0 0.8121 171.12 1273.80)" font-size="100" fill="#262626" stroke="#262626" stroke-width="1.4" vector-effect="non-scaling-stroke" stroke-linejoin="round" style="">1</text>
<text transform="matrix(0.8307 0 0 0.8003 298.36 1350.00)" font-size="100" fill="#262626" stroke="#262626" stroke-width="1.4" vector-effect="non-scaling-stroke" stroke-linejoin="round" style="">10</text>
<text transform="matrix(0.7747 0 0 0.7000 381.70 1325.42)" font-size="100" fill="#262626" style="">−</text>
<text transform="matrix(0.5746 0 0 0.5740 426.64 1316.80)" font-size="100" fill="#262626" stroke="#262626" stroke-width="1.0" vector-effect="non-scaling-stroke" stroke-linejoin="round" style="">2</text>
<text transform="matrix(0.8307 0 0 0.8003 770.30 1350.00)" font-size="100" fill="#262626" stroke="#262626" stroke-width="1.4" vector-effect="non-scaling-stroke" stroke-linejoin="round" style="">10</text>
<text transform="matrix(0.7747 0 0 0.7000 853.64 1325.42)" font-size="100" fill="#262626" style="">−</text>
<text transform="matrix(0.5625 0 0 0.5758 898.26 1316.80)" font-size="100" fill="#262626" stroke="#262626" stroke-width="1.0" vector-effect="non-scaling-stroke" stroke-linejoin="round" style="">1</text>
<text transform="matrix(0.8307 0 0 0.8003 1264.85 1350.00)" font-size="100" fill="#262626" stroke="#262626" stroke-width="1.4" vector-effect="non-scaling-stroke" stroke-linejoin="round" style="">10</text>
<text transform="matrix(0.5307 0 0 0.5725 1349.44 1316.93)" font-size="100" fill="#262626" stroke="#262626" stroke-width="1.0" vector-effect="non-scaling-stroke" stroke-linejoin="round" style="">0</text>
<text transform="matrix(0.8307 0 0 0.8003 1736.79 1350.00)" font-size="100" fill="#262626" stroke="#262626" stroke-width="1.4" vector-effect="non-scaling-stroke" stroke-linejoin="round" style="">10</text>
<text transform="matrix(0.5369 0 0 0.5758 1820.97 1316.80)" font-size="100" fill="#262626" stroke="#262626" stroke-width="1.0" vector-effect="non-scaling-stroke" stroke-linejoin="round" style="">1</text>
<text transform="matrix(1.0866 0 0 0.9338 928.92 1461.37)" font-size="100" fill="#262626" stroke="#262626" stroke-width="1.4" vector-effect="non-scaling-stroke" stroke-linejoin="round" style="font-style:italic;">t</text>
<text transform="matrix(0.8605 0 0 1.0199 999.51 1462.08)" font-size="100" fill="#262626" stroke="#262626" stroke-width="0.6" vector-effect="non-scaling-stroke" stroke-linejoin="round" style="">(</text>
<text transform="matrix(0.9172 0 0 0.8838 1029.83 1461.42)" font-size="100" fill="#262626" stroke="#262626" stroke-width="1.4" vector-effect="non-scaling-stroke" stroke-linejoin="round" style="">s</text>
<text transform="matrix(0.8643 0 0 1.0199 1067.53 1462.08)" font-size="100" fill="#262626" stroke="#262626" stroke-width="0.6" vector-effect="non-scaling-stroke" stroke-linejoin="round" style="">)</text>
<g transform="translate(0,764.1) rotate(-90)">
<text transform="matrix(1.0833 0 0 0.9664 1.25 126.40)" font-size="100" fill="#262626" stroke="#262626" stroke-width="1.2" vector-effect="non-scaling-stroke" stroke-linejoin="round" style="font-style:italic;">R</text>
<text transform="matrix(1.4388 0 0 1.4239 69.50 148.98)" font-size="100" fill="#262626" stroke="#fff" stroke-width="3.4" vector-effect="non-scaling-stroke" stroke-linejoin="round" style="">/</text>
<text transform="matrix(1.0683 0 0 0.9664 116.94 126.40)" font-size="100" fill="#262626" stroke="#262626" stroke-width="1.2" vector-effect="non-scaling-stroke" stroke-linejoin="round" style="font-style:italic;">R</text>
<text transform="matrix(0.6341 0 0 0.5996 181.50 139.80)" font-size="100" fill="#262626" stroke="#262626" stroke-width="0.8" vector-effect="non-scaling-stroke" stroke-linejoin="round" style="font-style:italic;">o</text>
</g>
<g transform="translate(1141.4,204.7) rotate(-61.5)">
<text transform="matrix(0.9650 0 0 0.8581 -178.26 4.61)" font-size="100" fill="#000" stroke="#fff" stroke-width="1.6" vector-effect="non-scaling-stroke" stroke-linejoin="round" style="font-style:italic;">β</text>
<text transform="matrix(1.1588 0 0 0.8160 -109.79 8.57)" font-size="100" fill="#000" style="">=</text>
<text transform="matrix(0.7557 0 0 0.8121 -19.95 -0.70)" font-size="100" fill="#000" stroke="#000" stroke-width="1.4" vector-effect="non-scaling-stroke" stroke-linejoin="round" style="">1</text>
<text transform="matrix(1.3094 0 0 1.2896 22.80 20.91)" font-size="100" fill="#000" stroke="#fff" stroke-width="2.4" vector-effect="non-scaling-stroke" stroke-linejoin="round" style="">/</text>
<text transform="matrix(0.8109 0 0 0.8097 60.13 -0.70)" font-size="100" fill="#000" stroke="#000" stroke-width="1.4" vector-effect="non-scaling-stroke" stroke-linejoin="round" style="">2</text>
</g>
</svg>
</body></html>
